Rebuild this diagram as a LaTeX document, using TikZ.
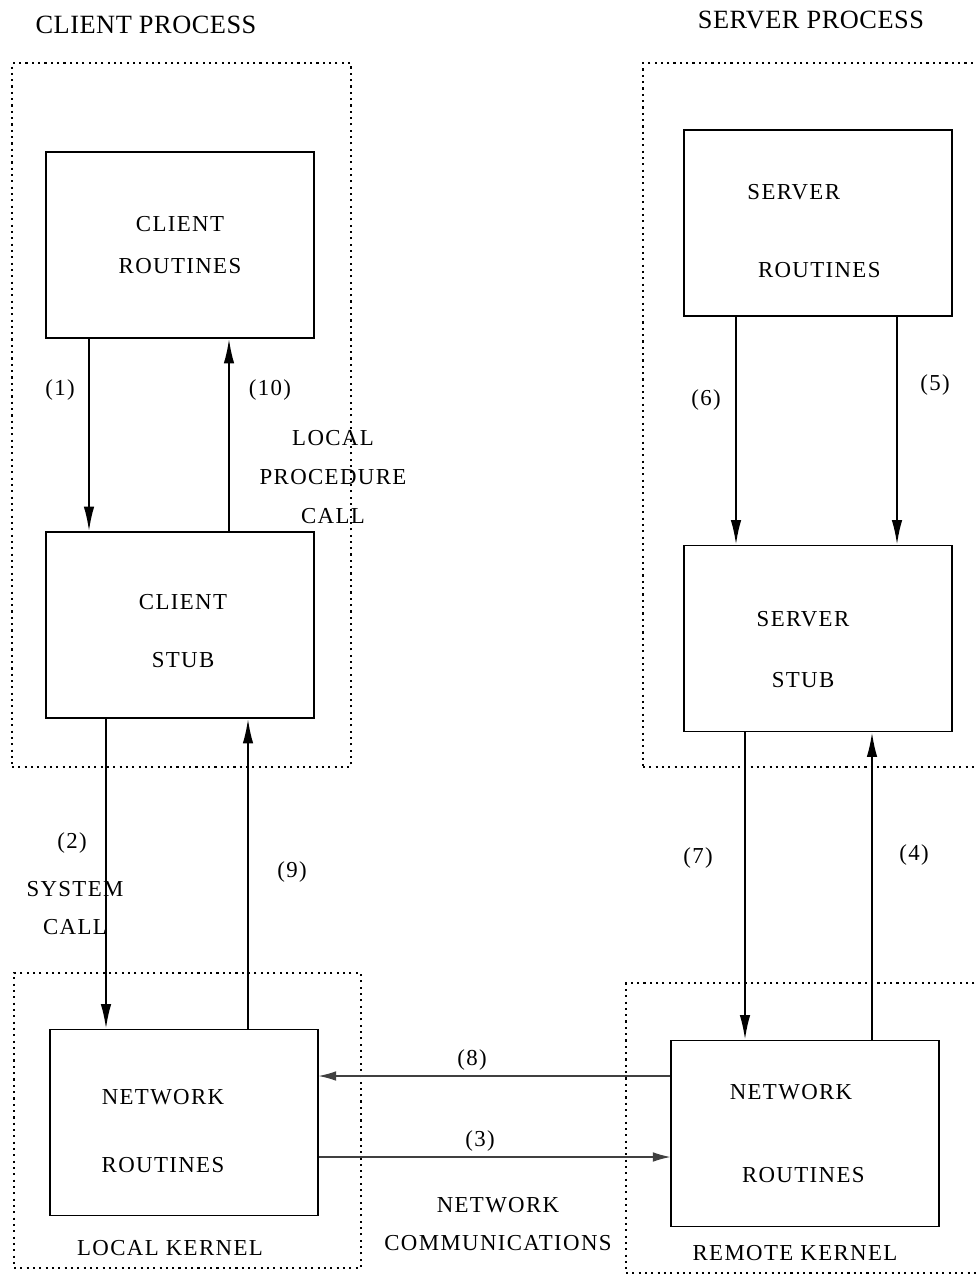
\documentclass[tikz,border=0pt]{standalone}
\usepackage{fontspec}
\setmainfont{Liberation Serif}[LetterSpace=6]
\usepackage{tikz}
\usetikzlibrary{arrows.meta,positioning,calc}

\begin{document}
\begin{tikzpicture}[x=0.02cm,y=-0.02cm,
  font=\fontsize{13}{16}\selectfont,
  box/.style={draw,line width=1pt,minimum width=5.35cm,minimum height=3.72cm,inner sep=0pt},
  group/.style={draw,line width=0.9pt,dash pattern=on 1.2pt off 2.4pt,inner sep=0pt},
  lbl/.style={inner sep=1pt,align=center},
  head/.style={inner sep=1pt,font=\fontsize{15}{18}\selectfont\addfontfeature{LetterSpace=2}},
  arr/.style={-{Latex[length=14pt,width=6pt]},line width=1.1pt},
  net/.style={-{Latex[length=10pt,width=5.5pt]},line width=0.6pt,black!75}
]
\useasboundingbox (0,0) rectangle (976,1278);

% dotted process / kernel frames
\node[group,minimum width=6.78cm,minimum height=14.08cm] (cproc) at (181.5,415) {};
\node[group,minimum width=7.14cm,minimum height=14.08cm] (sproc) at (821.5,415) {};
\node[group,minimum width=6.94cm,minimum height=5.9cm] (lkern) at (187.5,1120.5) {};
\node[group,minimum width=7.48cm,minimum height=5.8cm] (rkern) at (813,1128) {};

\node[head] (cproct) at (146,25) {CLIENT PROCESS};
\node[head] (sproct) at (811,20) {SERVER PROCESS};
\node[lbl] (lkernt) at (170,1248) {LOCAL KERNEL};
\node[lbl] (rkernt) at (795,1253) {REMOTE KERNEL};

% boxes
\node[box] (croutine) at (180,245) {};
\node[box] (cstub) at (180,625) {};
\node[box] (lnet) at (184,1122.5) {};
\node[box] (sroutine) at (818,223) {};
\node[box] (sstub) at (818,638.5) {};
\node[box] (rnet) at (805,1133.5) {};

% box texts
\node[lbl] (croutinet) at (180,245) {CLIENT\\[8pt]ROUTINES};
\node[lbl] (cstubt) at (183,631) {CLIENT\\[17pt]STUB};
\node[lbl] (lnett) at (163,1131) {NETWORK\\[23pt]ROUTINES};
\node[lbl,align=left] (sroutinet) at (814,231) {SERVER\\[28pt]\hspace*{6pt}ROUTINES};
\node[lbl] (sstubt) at (803,649.5) {SERVER\\[19pt]STUB};
\node[lbl] (rnett) at (791,1133.5) {NETWORK\\[31pt]\hspace*{14pt}ROUTINES};

% calls
\draw[arr] ($(croutine.south)+(-91,0)$) -- ($(cstub.north)+(-91,0)$);
\draw[arr] ($(cstub.north)+(49,0)$) -- ($(croutine.south)+(49,0)$);
\draw[arr] ($(cstub.south)+(-74,0)$) -- ($(lnet.north)+(-78,0)$);
\draw[arr] ($(lnet.north)+(64,0)$) -- ($(cstub.south)+(68,0)$);
\draw[net] ($(lnet.east)+(0,34.5)$) -- ($(rnet.west)+(0,23.5)$);
\draw[arr] ($(rnet.north)+(67,0)$) -- ($(sstub.south)+(54,0)$);
\draw[arr] ($(sroutine.south)+(79,0)$) -- ($(sstub.north)+(79,0)$);
\draw[arr] ($(sroutine.south)+(-82,0)$) -- ($(sstub.north)+(-82,0)$);
\draw[arr] ($(sstub.south)+(-73,0)$) -- ($(rnet.north)+(-60,0)$);
\draw[net] ($(rnet.west)+(0,-57.5)$) -- ($(lnet.east)+(0,-46.5)$);

% step labels
\node[lbl] (n1) at (60,390) {(1)};
\node[lbl] (n10) at (270,390) {(10)};
\node[lbl] (n2) at (72,843) {(2)};
\node[lbl] (n9) at (292,872) {(9)};
\node[lbl] (n3) at (480,1141) {(3)};
\node[lbl] (n4) at (914,855) {(4)};
\node[lbl] (n5) at (935,385) {(5)};
\node[lbl] (n6) at (706,400) {(6)};
\node[lbl] (n7) at (698,858) {(7)};
\node[lbl] (n8) at (472,1060) {(8)};

\node[lbl] (lpc) at (333,477) {LOCAL\\[6pt]PROCEDURE\\[6pt]CALL};
\node[lbl] (syscall) at (75,908) {SYSTEM\\[6pt]CALL};
\node[lbl] (netcomm) at (498,1224) {NETWORK\\[5.5pt]COMMUNICATIONS};
\end{tikzpicture}
\end{document}
